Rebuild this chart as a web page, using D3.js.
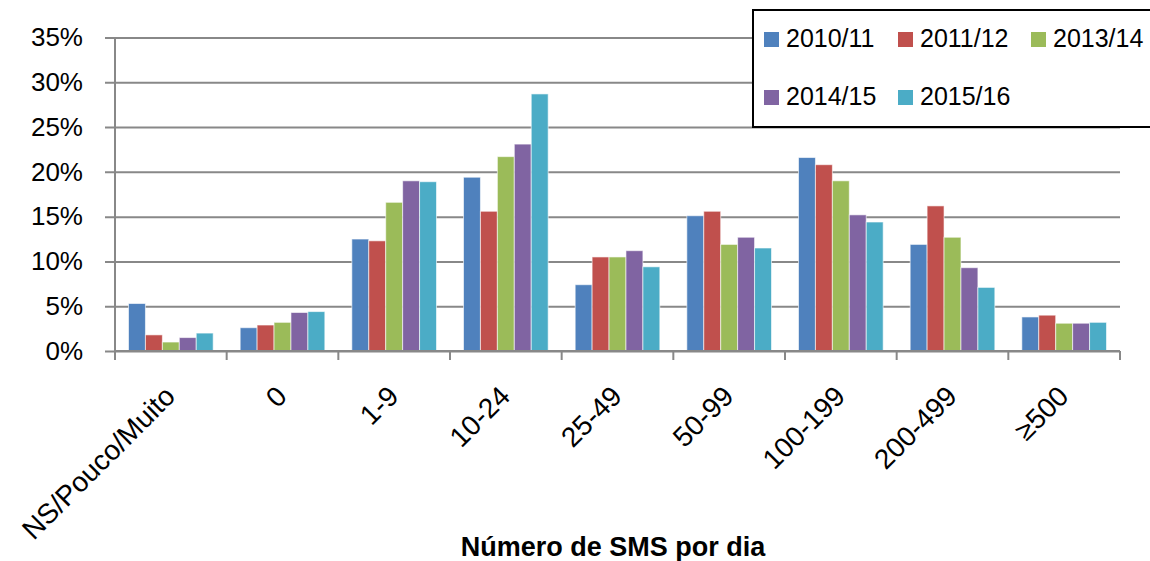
<!DOCTYPE html>
<html>
<head>
<meta charset="utf-8">
<script src="https://cdn.jsdelivr.net/npm/d3@7"></script>
<style>
  body { margin: 0; background: #fff; }
  svg { display: block; font-family: "Liberation Sans", Arial, sans-serif; }
</style>
</head>
<body>
<svg id="chart" width="1150" height="561"></svg>
<script>
// categories and series
var categories = ["NS/Pouco/Muito", "0", "1-9", "10-24", "25-49", "50-99", "100-199", "200-499", "\u2265500"];
var seriesNames = ["2010/11", "2011/12", "2013/14", "2014/15", "2015/16"];
var colors = ["#4F81BD", "#C0504D", "#9BBB59", "#8064A2", "#4BACC6"];

// values in %, one array per year
var v2010 = [5.3, 2.6, 12.5, 19.4, 7.4, 15.1, 21.6, 11.9, 3.8];
var v2011 = [1.8, 2.9, 12.3, 15.6, 10.5, 15.6, 20.8, 16.2, 4.0];
var v2013 = [1.0, 3.2, 16.6, 21.7, 10.5, 11.9, 19.0, 12.7, 3.1];
var v2014 = [1.5, 4.3, 19.0, 23.1, 11.2, 12.7, 15.2, 9.3, 3.1];
var v2015 = [2.0, 4.4, 18.9, 28.7, 9.4, 11.5, 14.4, 7.1, 3.2];
var yTicks = [0, 5, 10, 15, 20, 25, 30, 35];

var values = [v2010, v2011, v2013, v2014, v2015];

drawChart();

function drawChart() {
  var svg = d3.select("#chart");
  var left = 115, right = 1120, top = 37.5, bottom = 351;

  var x = d3.scaleBand().domain(categories).range([left, right]).padding(0);
  var xs = d3.scaleBand().domain(seriesNames)
      .range([13.5, x.bandwidth() - 13.5]).padding(0);
  var y = d3.scaleLinear().domain([0, 35]).range([bottom, top]);

  // gridlines + y axis
  var yAxis = svg.append("g")
      .attr("transform", "translate(" + left + ",0)")
      .call(d3.axisLeft(y).tickValues(yTicks)
        .tickSize(-(right - left)).tickPadding(32)
        .tickFormat(function(d) { return d + "%"; }));
  yAxis.select(".domain").remove();
  yAxis.selectAll(".tick line")
      .attr("x1", -10)
      .attr("stroke", "#888").attr("stroke-width", 2);
  yAxis.selectAll(".tick text")
      .attr("font-size", 26).attr("fill", "#000")
      .attr("font-family", "Liberation Sans, Arial, sans-serif");

  // vertical axis line
  svg.append("line")
      .attr("x1", left).attr("x2", left)
      .attr("y1", top).attr("y2", bottom)
      .attr("stroke", "#888").attr("stroke-width", 2);

  // bars
  var groups = svg.append("g").selectAll("g")
      .data(categories)
      .enter().append("g")
      .attr("transform", function(d) { return "translate(" + x(d) + ",0)"; });

  groups.selectAll("rect")
      .data(function(d, i) {
        return seriesNames.map(function(s, j) { return {s: s, v: values[j][i], c: colors[j]}; });
      })
      .enter().append("rect")
      .attr("x", function(d) { return xs(d.s); })
      .attr("width", xs.bandwidth())
      .attr("y", function(d) { return y(d.v); })
      .attr("height", function(d) { return bottom - y(d.v); })
      .attr("fill", function(d) { return d.c; })
      .attr("stroke", "rgba(255,255,255,0.6)")
      .attr("stroke-width", 1);

  // x axis with ticks at category boundaries
  svg.append("line")
      .attr("x1", left).attr("x2", right)
      .attr("y1", bottom).attr("y2", bottom)
      .attr("stroke", "#888").attr("stroke-width", 2);
  var bounds = categories.map(function(c) { return x(c); }).concat([right]);
  svg.append("g").selectAll("line")
      .data(bounds)
      .enter().append("line")
      .attr("x1", function(d) { return d; }).attr("x2", function(d) { return d; })
      .attr("y1", bottom).attr("y2", bottom + 9)
      .attr("stroke", "#888").attr("stroke-width", 2);

  // category labels, rotated
  svg.append("g").selectAll("text")
      .data(categories)
      .enter().append("text")
      .attr("transform", function(d) {
        return "translate(" + (x(d) + x.bandwidth() / 2 + 6) + "," + (bottom + 47) + ") rotate(-45)";
      })
      .attr("text-anchor", "end")
      .attr("font-size", 28)
      .text(function(d) { return d; });

  // axis title
  svg.append("text")
      .attr("x", 613).attr("y", 556)
      .attr("text-anchor", "middle")
      .attr("font-size", 27)
      .attr("font-weight", "bold")
      .text("N\u00famero de SMS por dia");

  // legend
  var lg = svg.append("g");
  lg.append("rect")
      .attr("x", 753).attr("y", 10)
      .attr("width", 410).attr("height", 117)
      .attr("fill", "#fff").attr("stroke", "#000").attr("stroke-width", 2);
  var colX = [764, 898, 1031], rowY = [32, 90];
  var items = lg.selectAll("g.item")
      .data(seriesNames)
      .enter().append("g")
      .attr("class", "item")
      .attr("transform", function(d, i) {
        return "translate(" + colX[i % 3] + "," + rowY[Math.floor(i / 3)] + ")";
      });
  items.append("rect")
      .attr("width", 15).attr("height", 15)
      .attr("fill", function(d, i) { return colors[i]; });
  items.append("text")
      .attr("x", 22).attr("y", 15)
      .attr("font-size", 25)
      .text(function(d) { return d; });
}
</script>
</body>
</html>
